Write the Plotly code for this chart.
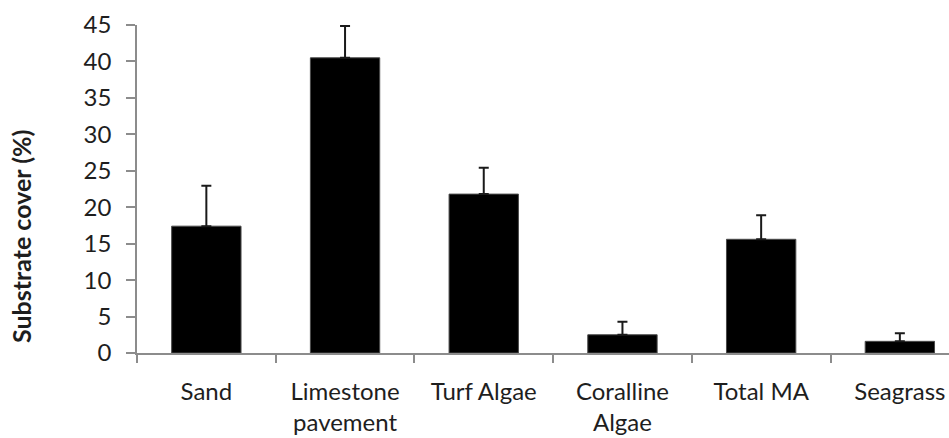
import plotly.graph_objects as go

categories = ["Sand", "Limestone<br>pavement", "Turf Algae", "Coralline<br>Algae", "Total MA", "Seagrass"]
cover = [17.4, 40.5, 21.8, 2.5, 15.6, 1.6]
err_plus = [5.55, 4.35, 3.6, 1.8, 3.3, 1.1]
y_ticks = [0, 5, 10, 15, 20, 25, 30, 35, 40, 45]

W, H = 949, 438
L, T, B = 137, 25, 85
plot_w = W - L
cat_px = 138.7
x_max = -0.5 + plot_w / cat_px

fig = go.Figure()
fig.add_trace(go.Bar(
    x=categories, y=cover,
    width=0.5,
    marker=dict(color="#000000", line=dict(color="#4a4a4a", width=1)),
    error_y=dict(type="data", symmetric=False, array=err_plus,
                 arrayminus=[0] * len(cover),
                 color="#1a1a1a", thickness=2, width=5),
))

axis_col = "#8c8c8c"
font_family = "Lato, 'Open Sans', sans-serif"
txt_col = "#1e1e1e"

fig.update_layout(
    width=W, height=H,
    margin=dict(l=L, r=0, t=T, b=B, pad=0),
    plot_bgcolor="white", paper_bgcolor="white",
    showlegend=False,
    font=dict(family=font_family, size=24, color=txt_col),
)
fig.update_xaxes(
    type="category",
    range=[-0.5, x_max],
    automargin=False,
    showline=True, linecolor=axis_col, linewidth=1.5,
    ticks="outside", tickson="boundaries", ticklen=8, tickcolor=axis_col, tickwidth=1.5,
    showgrid=False, zeroline=False,
    tickfont=dict(family=font_family, size=24, color=txt_col),
    ticklabelstandoff=16,
)
fig.update_yaxes(
    range=[0, 45],
    tickvals=y_ticks,
    automargin=False,
    showline=True, linecolor=axis_col, linewidth=1.5,
    ticks="outside", ticklen=9, tickcolor=axis_col, tickwidth=1.5,
    showgrid=False, zeroline=False,
    tickfont=dict(family=font_family, size=24, color=txt_col),
    ticklabelstandoff=10,
)
fig.add_annotation(
    text="<b>Substrate cover (%)</b>",
    xref="paper", yref="paper",
    x=(21 - L) / plot_w, y=(H - B - 237) / (H - T - B),
    xanchor="center", yanchor="middle",
    textangle=-90, showarrow=False,
    font=dict(family=font_family, size=25, color=txt_col),
)

fig.write_html("out.html")
